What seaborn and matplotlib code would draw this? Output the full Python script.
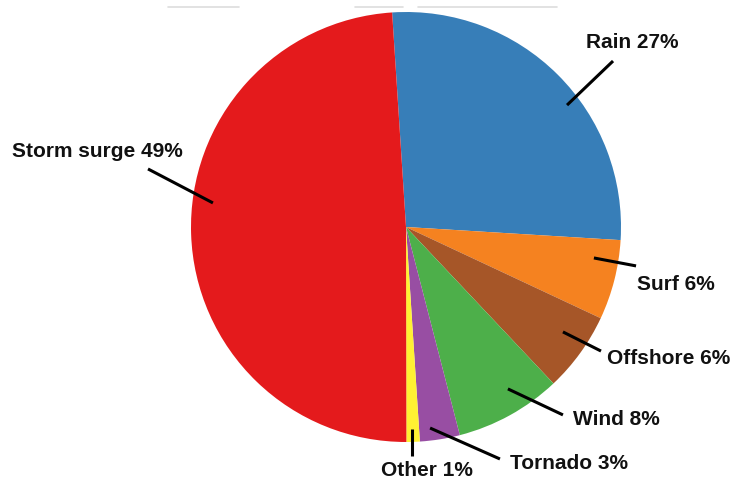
import matplotlib
matplotlib.use("Agg")
import matplotlib.pyplot as plt
import seaborn as sns
from matplotlib.lines import Line2D

sns.set_theme(style="white")
plt.rcParams['font.family'] = ['Liberation Sans', 'DejaVu Sans']

categories = ["Rain", "Surf", "Offshore", "Wind", "Tornado", "Other", "Storm surge"]
values = [27, 6, 6, 8, 3, 1, 49]
colors = ["#377EB8", "#F58220", "#A65628", "#4DAF4A", "#984EA3", "#FFF133", "#E41A1C"]

# label layout (data coords): line start, line end, text center
label_layout = {
    "Rain":        ((0.749, 0.567), (0.963, 0.772), (1.051, 0.865)),
    "Surf":        ((0.874, -0.144), (1.070, -0.181), (1.256, -0.262)),
    "Offshore":    ((0.730, -0.488), (0.907, -0.577), (1.223, -0.607)),
    "Wind":        ((0.474, -0.753), (0.730, -0.874), (0.977, -0.890)),
    "Tornado":     ((0.112, -0.935), (0.437, -1.079), (0.760, -1.095)),
    "Other":       ((0.028, -0.940), (0.028, -1.065), (0.098, -1.130)),
    "Storm surge": ((-0.898, 0.112), (-1.200, 0.270), (-1.437, 0.355)),
}

W, H = 731, 481
fig = plt.figure(figsize=(W / 100, H / 100), dpi=100)
cx, cy, r = 406, 228, 215
ax = fig.add_axes([(cx - r) / W, (H - cy - r) / H, 2 * r / W, 2 * r / H])
ax.pie(values, colors=colors, startangle=93.7, counterclock=False,
       radius=1, wedgeprops=dict(linewidth=0))
ax.set_xlim(-1, 1)
ax.set_ylim(-1, 1)
ax.set_aspect("equal")
ax.axis("off")

for cat, val in zip(categories, values):
    p0, p1, pt = label_layout[cat]
    ax.plot([p0[0], p1[0]], [p0[1], p1[1]], color="black", lw=2.2,
            solid_capstyle="butt", clip_on=False)
    ax.text(pt[0], pt[1], f"{cat} {val}%", ha="center", va="center",
            fontsize=15, fontweight="bold", color="#111111", clip_on=False)

# faint rules at the top edge
for x0, x1 in [(168, 239), (355, 403), (418, 557)]:
    fig.add_artist(Line2D([x0 / W, x1 / W], [1 - 8 / H, 1 - 8 / H],
                          color="#DDDDDD", lw=1.2))

fig.savefig("out.png", dpi=100)
